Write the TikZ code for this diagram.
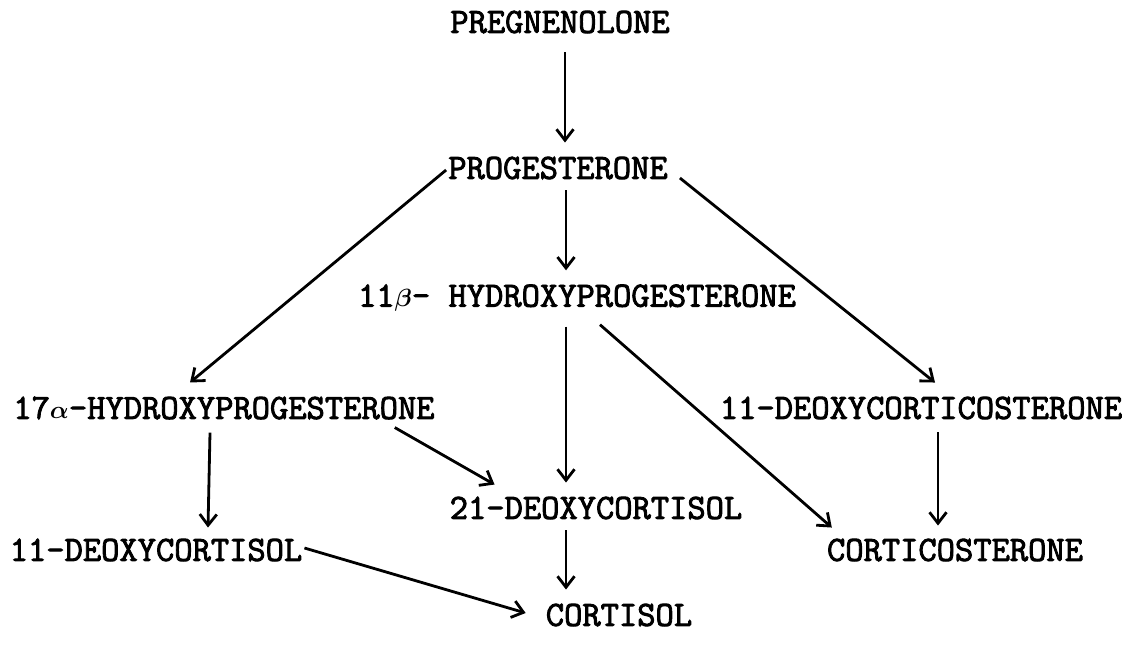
\documentclass[tikz,border=0pt]{standalone}
\usepackage{bm}
\usepackage{fontspec}
\newfontfamily\typewr{Latin Modern Mono}[FakeBold=2.5]
\usetikzlibrary{arrows.meta}
\begin{document}
\begin{tikzpicture}[x=1pt,y=-1pt,
  lbl/.style={inner sep=0pt,font=\fontsize{35.5}{37}\typewr},
  conn/.style={line width=2.8pt,-{Straight Barb[length=11pt,width=17pt,line width=2.8pt]}}]
\useasboundingbox[fill=white] (0,0) rectangle (1131,657);
\node[lbl] (preg) at (560,22) {PREGNENOLONE};
\node[lbl] (prog) at (558,168) {PROGESTERONE};
\node[lbl] (hp11) at (577,298) {11$\bm{\beta}$- HYDROXYPROGESTERONE};
\node[lbl] (hp17) at (224,408) {17$\bm{\alpha}$-HYDROXYPROGESTERONE};
\node[lbl] (doc) at (921,408) {11-DEOXYCORTICOSTERONE};
\node[lbl] (dcl21) at (596,508) {21-DEOXYCORTISOL};
\node[lbl] (dcl11) at (156,550) {11-DEOXYCORTISOL};
\node[lbl] (cort) at (955,550) {CORTICOSTERONE};
\node[lbl] (cortisol) at (619,615) {CORTISOL};
\draw[conn] ([xshift=5pt,yshift=-19pt]preg.south) -- ([xshift=7pt,yshift=14pt]prog.north);
\draw[conn] ([xshift=8pt,yshift=-11pt]prog.south) -- ([xshift=-11pt,yshift=14pt]hp11.north);
\draw[conn] ([xshift=-2pt,yshift=-2pt]prog.west) -- ([xshift=-34pt,yshift=14pt]hp17.north);
\draw[conn] ([xshift=12pt,yshift=-10pt]prog.east) -- ([xshift=14pt,yshift=14pt]doc.north);
\draw[conn] ([xshift=-11pt,yshift=-15pt]hp11.south) -- ([xshift=-30pt,yshift=14pt]dcl21.north);
\draw[conn] ([xshift=23pt,yshift=-13pt]hp11.south) -- ([xshift=5pt,yshift=11pt]cort.north west);
\draw[conn] ([xshift=-40pt,yshift=-8pt]hp17.south east) -- ([xshift=45pt,yshift=12pt]dcl21.north west);
\draw[conn] ([xshift=-14pt,yshift=-13pt]hp17.south) -- ([xshift=52pt,yshift=11pt]dcl11.north);
\draw[conn] ([xshift=17pt,yshift=-13pt]doc.south) -- ([xshift=-17pt,yshift=13pt]cort.north);
\draw[conn] ([xshift=2pt,yshift=2pt]dcl11.east) -- ([xshift=-20pt,yshift=2pt]cortisol.west);
\draw[conn] ([xshift=-30pt,yshift=-11pt]dcl21.south) -- ([xshift=-53pt,yshift=14pt]cortisol.north);
\end{tikzpicture}
\end{document}
